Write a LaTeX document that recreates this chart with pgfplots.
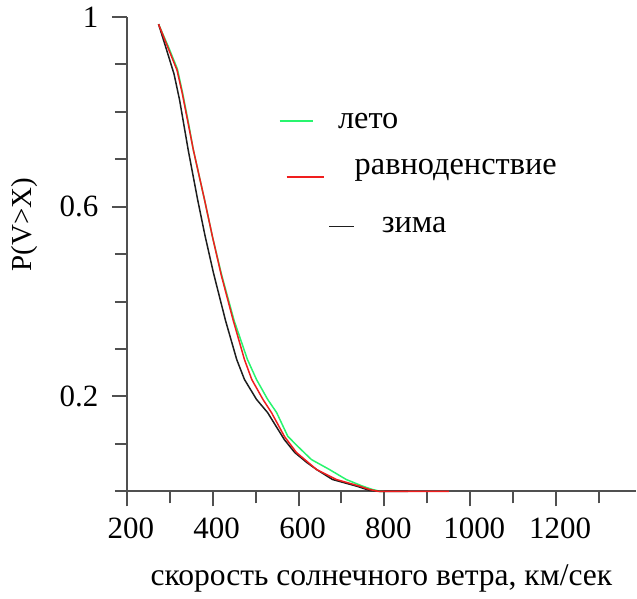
\documentclass[border=0pt]{standalone}
\usepackage{pgfplots}
\pgfplotsset{compat=1.18}
\usepackage{fontspec}
\setmainfont{Liberation Serif}
\definecolor{cgreen}{RGB}{40,245,110}
\definecolor{cred}{RGB}{240,30,30}
\definecolor{cblack}{RGB}{30,30,30}
\definecolor{axgray}{RGB}{80,80,80}
\begin{document}
\begin{tikzpicture}
\begin{axis}[
 scale only axis, width=255pt, height=237.5pt,
 xmin=200, xmax=1386, ymin=0, ymax=1,
 axis x line*=bottom, axis y line*=left,
 axis line style={axgray, line width=1pt},
 tick style={axgray, line width=1pt},
 tick align=outside,
 major tick length=7.5pt, minor tick length=6pt,
 xtick={200,400,...,1200}, minor xtick={300,500,...,1300},
 ytick={0.2,0.6,1}, minor ytick={0,0.1,0.3,0.4,0.5,0.7,0.8,0.9},
 yticklabels={0.2,0.6,1},
 xticklabels={200,400,600,800,1000,1200},
 /pgf/number format/assume math mode=true,
 ticklabel style={font=\fontsize{15.5}{15.5}\selectfont, inner sep=0pt},
 xticklabel style={anchor=north, yshift=-5.5pt, xshift=2pt},
 yticklabel style={anchor=east, xshift=-6.5pt},
 xlabel={скорость солнечного ветра, км/сек},
 xlabel style={font=\fontsize{15.8}{15.8}\selectfont, at={(rel axis cs:0.5,-0.183)}, anchor=center},
 ylabel={P(V>X)},
 ylabel style={font=\fontsize{14.5}{14.5}\selectfont, at={(rel axis cs:-0.2,0.562)}, anchor=center},
 clip=false,
]
\path (rel axis cs:-0.249,-0.223) rectangle (rel axis cs:1,1.036);
\addplot[cgreen, line width=0.75pt] coordinates {
(274,0.985)(298,0.935)(318,0.89)(330,0.84)(343,0.78)(355,0.72)(381,0.615)(400,0.535)(421,0.456)(450,0.36)(481,0.278)(502,0.236)(528,0.194)(549,0.166)(575,0.116)(598,0.095)(630,0.067)(672,0.046)(711,0.025)(749,0.011)(772,0.004)(790,0)(800,0)};
\addplot[cblack, line width=0.75pt] coordinates {
(274,0.985)(293,0.93)(310,0.88)(323,0.825)(343,0.72)(365,0.615)(382,0.54)(402,0.46)(430,0.36)(456,0.278)(474,0.236)(502,0.194)(528,0.166)(567,0.109)(591,0.082)(619,0.061)(642,0.046)(679,0.025)(735,0.011)(765,0.002)(790,0)(855,0)};
\addplot[cred, line width=0.75pt] coordinates {
(274,0.985)(297,0.933)(317,0.888)(329,0.84)(342,0.78)(355,0.72)(381,0.615)(400,0.535)(420,0.456)(448,0.36)(474,0.278)(491,0.236)(517,0.194)(537,0.166)(567,0.116)(595,0.082)(642,0.046)(688,0.025)(742,0.011)(765,0.004)(785,0)(950,0)};
% legend keys
\draw[cgreen, line width=0.75pt] (axis cs:556,0.781) -- (axis cs:633,0.781);
\node[anchor=west, inner sep=0pt, font=\fontsize{16.2}{16.2}\selectfont] at (axis cs:691,0.781) {лето};
\draw[cred, line width=0.75pt] (axis cs:572,0.663) -- (axis cs:660,0.663);
\node[anchor=west, inner sep=0pt, font=\fontsize{16.2}{16.2}\selectfont] at (axis cs:730,0.676) {равноденствие};
\draw[cblack, line width=0.75pt] (axis cs:672,0.558) -- (axis cs:730,0.558);
\node[anchor=west, inner sep=0pt, font=\fontsize{16.2}{16.2}\selectfont] at (axis cs:793,0.562) {зима};
\end{axis}
\end{tikzpicture}
\end{document}
